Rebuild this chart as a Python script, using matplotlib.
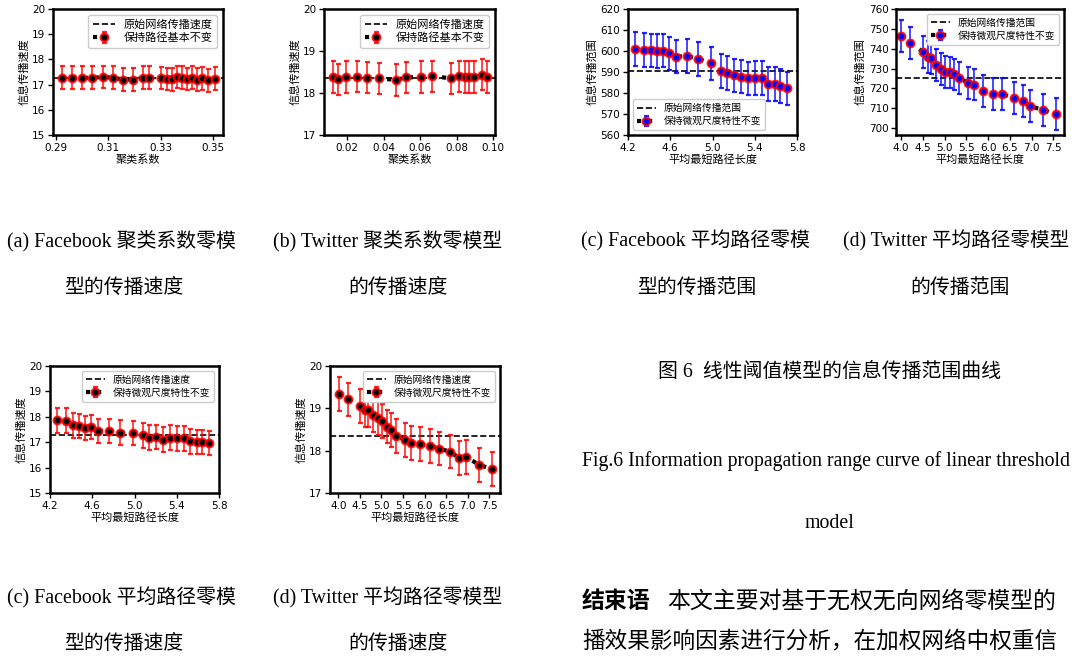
import matplotlib
matplotlib.use("Agg")
import matplotlib.pyplot as plt
import numpy as np

plt.rcParams['font.family'] = ['DejaVu Sans', 'Noto Sans CJK SC']
plt.rcParams['axes.unicode_minus'] = False

# ---------------- data ----------------
# (a) Facebook clustering-coefficient null model, spreading speed
fb_cc_x = [0.2922, 0.2960, 0.2998, 0.3039, 0.3079, 0.3119, 0.3157, 0.3195, 0.3233, 0.3254,
           0.3300, 0.3322, 0.3341, 0.3360, 0.3379, 0.3398, 0.3417, 0.3436, 0.3457, 0.3478, 0.3506]
fb_cc_speed = [17.27, 17.27, 17.27, 17.27, 17.30, 17.27, 17.20, 17.20, 17.27, 17.28,
               17.26, 17.22, 17.21, 17.30, 17.27, 17.22, 17.28, 17.20, 17.25, 17.17, 17.24]
fb_cc_err = 0.45
fb_speed_base = 17.25

# (b) Twitter clustering-coefficient null model, spreading speed
tw_cc_x = [0.0120, 0.0151, 0.0193, 0.0251, 0.0308, 0.0375, 0.0465, 0.0523, 0.0602, 0.0662,
           0.0768, 0.0810, 0.0845, 0.0868, 0.0896, 0.0938, 0.0965]
tw_cc_speed = [18.38, 18.33, 18.38, 18.39, 18.36, 18.35, 18.31, 18.37, 18.38, 18.40,
               18.35, 18.40, 18.38, 18.38, 18.38, 18.43, 18.38]
tw_cc_err = 0.37
tw_speed_base = 18.36

# Facebook average-path null model (x shared by c-range and c-speed)
fb_apl_x = [4.268, 4.347, 4.418, 4.473, 4.530, 4.588, 4.658, 4.756, 4.862, 4.988, 5.083,
            5.136, 5.200, 5.266, 5.335, 5.402, 5.470, 5.528, 5.592, 5.640, 5.704]
fb_apl_range = [600.9, 600.6, 600.3, 600.0, 600.2, 598.9, 597.3, 597.6, 596.3, 594.1, 590.6,
                589.4, 588.4, 587.8, 587.0, 587.1, 587.1, 584.4, 584.4, 583.2, 582.2]
fb_apl_range_err = 8.0
fb_range_base = 590.7
fb_apl_speed = [17.86, 17.85, 17.66, 17.64, 17.56, 17.59, 17.44, 17.45, 17.38, 17.36, 17.27,
                17.18, 17.20, 17.10, 17.18, 17.15, 17.15, 17.03, 17.01, 17.01, 16.97]
fb_apl_speed_err = 0.48
fb_speed_base2 = 17.27

# Twitter average-path null model (x shared by d-range and d-speed)
tw_apl_x = [4.01, 4.215, 4.51, 4.615, 4.69, 4.80, 4.91, 5.02, 5.12, 5.22, 5.33,
            5.54, 5.68, 5.89, 6.115, 6.33, 6.585, 6.80, 6.96, 7.26, 7.56]
tw_apl_range = [746.3, 743.0, 738.3, 735.7, 735.1, 731.7, 729.8, 728.3, 728.0, 727.0, 725.4,
                722.8, 721.9, 718.7, 717.0, 717.0, 715.3, 713.6, 711.1, 709.1, 706.9]
tw_apl_range_err = 8.0
tw_range_base = 725.4
tw_apl_speed = [19.33, 19.21, 19.06, 18.96, 18.96, 18.84, 18.77, 18.71, 18.57, 18.49, 18.35,
                18.26, 18.18, 18.15, 18.12, 18.05, 17.98, 17.83, 17.85, 17.67, 17.56]
tw_apl_speed_err = 0.40
tw_speed_base2 = 18.34

# labels
lbl_base_speed = '原始网络传播速度'
lbl_base_range = '原始网络传播范围'
lbl_keep_path = '保持路径基本不变'
lbl_keep_micro = '保持微观尺度特性不变'
ylab_speed = '信息传播速度'
ylab_range = '信息传播范围'
xlab_cc = '聚类系数'
xlab_apl = '平均最短路径长度'

W, H = 1075, 662
fig = plt.figure(figsize=(W / 100, H / 100), dpi=100)


def add_ax(x0, y0, x1, y1):
    return fig.add_axes([x0 / W, 1 - y1 / H, (x1 - x0) / W, (y1 - y0) / H])


def panel(ax, x, y, err, base, face, ecol, lbl_base, lbl_keep, xlab, ylab,
          xlim, ylim, xticks, yticks, xtl, loc, legsize=8):
    ax.axhline(base, color='black', ls='--', lw=1.2, label=lbl_base)
    ax.errorbar(x, y, yerr=err, fmt='o', ls=':', color='black', lw=3,
                mfc=face, mec=(1, 0, 0, 0.85), ms=5.5, mew=1.6, ecolor=ecol, elinewidth=1.2,
                capsize=1.8, capthick=1.0, label=lbl_keep)
    ax.set_xlim(*xlim)
    ax.set_ylim(*ylim)
    ax.set_xticks(xticks)
    ax.set_xticklabels(xtl)
    ax.set_yticks(yticks)
    ax.tick_params(labelsize=7.5, width=1, length=3.5, pad=2)
    for s in ax.spines.values():
        s.set_linewidth(1.8)
    ax.set_xlabel(xlab, fontsize=8, labelpad=1)
    ax.set_ylabel(ylab, fontsize=8, labelpad=2)
    ax.legend(loc=loc, fontsize=legsize, handlelength=2.0, borderaxespad=0.5,
              framealpha=1, edgecolor='#cccccc', handletextpad=0.8,
              borderpad=0.4, labelspacing=0.3)


RED = (1, 0, 0, 0.85)
BLUE = (0, 0, 1, 0.85)

# (a)
ax = add_ax(53, 9, 223, 135)
panel(ax, fb_cc_x, fb_cc_speed, fb_cc_err, fb_speed_base, 'black', RED,
      lbl_base_speed, lbl_keep_path, xlab_cc, ylab_speed,
      (0.2889, 0.3537), (15, 20), [0.29, 0.31, 0.33, 0.35], [15, 16, 17, 18, 19, 20],
      ['0.29', '0.31', '0.33', '0.35'], 'upper right')

# (b)
ax = add_ax(324, 9, 495, 135)
panel(ax, tw_cc_x, tw_cc_speed, tw_cc_err, tw_speed_base, 'black', RED,
      lbl_base_speed, lbl_keep_path, xlab_cc, ylab_speed,
      (0.0072, 0.1009), (17, 20), [0.02, 0.04, 0.06, 0.08, 0.10], [17, 18, 19, 20],
      ['0.02', '0.04', '0.06', '0.08', '0.10'], 'upper right')

# (c) range
ax = add_ax(628, 9, 797, 135)
panel(ax, fb_apl_x, fb_apl_range, fb_apl_range_err, fb_range_base, 'blue', BLUE,
      lbl_base_range, lbl_keep_micro, xlab_apl, ylab_range,
      (4.2, 5.8), (560, 620), [4.2, 4.6, 5.0, 5.4, 5.8], list(range(560, 621, 10)),
      ['4.2', '4.6', '5.0', '5.4', '5.8'], 'lower left', legsize=7)

# (d) range
ax = add_ax(896, 9, 1064, 135)
panel(ax, tw_apl_x, tw_apl_range, tw_apl_range_err, tw_range_base, 'blue', BLUE,
      lbl_base_range, lbl_keep_micro, xlab_apl, ylab_range,
      (3.885, 7.745), (696.5, 760), [4.0, 4.5, 5.0, 5.5, 6.0, 6.5, 7.0, 7.5],
      list(range(700, 761, 10)),
      ['4.0', '4.5', '5.0', '5.5', '6.0', '6.5', '7.0', '7.5'], 'upper right', legsize=7)

# (e) speed, Facebook path
ax = add_ax(50, 366, 219, 493)
panel(ax, fb_apl_x, fb_apl_speed, fb_apl_speed_err, fb_speed_base2, 'black', RED,
      lbl_base_speed, lbl_keep_micro, xlab_apl, ylab_speed,
      (4.2, 5.8), (15, 20), [4.2, 4.6, 5.0, 5.4, 5.8], [15, 16, 17, 18, 19, 20],
      ['4.2', '4.6', '5.0', '5.4', '5.8'], 'upper right', legsize=7)

# (f) speed, Twitter path
ax = add_ax(330, 366, 500, 493)
panel(ax, tw_apl_x, tw_apl_speed, tw_apl_speed_err, tw_speed_base2, 'black', RED,
      lbl_base_speed, lbl_keep_micro, xlab_apl, ylab_speed,
      (3.807, 7.747), (17, 20), [4.0, 4.5, 5.0, 5.5, 6.0, 6.5, 7.0, 7.5], [17, 18, 19, 20],
      ['4.0', '4.5', '5.0', '5.5', '6.0', '6.5', '7.0', '7.5'], 'upper right', legsize=7)

# ---------------- page text ----------------
serif = ['Liberation Serif', 'Noto Sans CJK SC']
cs = 14.3


def t(x, y, s, ha='left', **kw):
    fig.text(x / W, 1 - y / H, s, ha=ha, va='center', fontsize=kw.pop('fs', cs),
             family=kw.pop('family', serif), **kw)


t(7, 241, '(a) Facebook 聚类系数零模')
t(124, 288, '型的传播速度', ha='center')
t(273, 241, '(b) Twitter 聚类系数零模型')
t(398, 288, '的传播速度', ha='center')
t(581, 241, '(c) Facebook 平均路径零模')
t(697, 288, '型的传播范围', ha='center')
t(843, 241, '(d) Twitter 平均路径零模型', fs=14.1)
t(960, 288, '的传播范围', ha='center')
t(7, 598, '(c) Facebook 平均路径零模')
t(124, 644, '型的传播速度', ha='center')
t(273, 598, '(d) Twitter 平均路径零模型')
t(398, 644, '的传播速度', ha='center')

t(829, 372, '图 6  线性阈值模型的信息传播范围曲线', ha='center')
t(582, 461, 'Fig.6 Information propagation range curve of linear threshold', fs=14.2)
t(829, 523, 'model', ha='center')
t(582, 602, '结束语', fs=16.5, family=['Noto Sans CJK SC'], weight='bold')
t(667, 602, '本文主要对基于无权无向网络零模型的', fs=16.5)
t(582, 642, '播效果影响因素进行分析，在加权网络中权重信', fs=16.3)

fig.savefig('out.png', dpi=100)
